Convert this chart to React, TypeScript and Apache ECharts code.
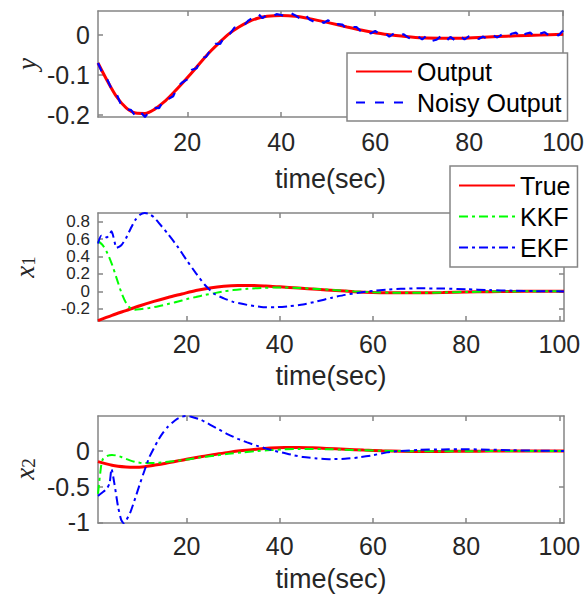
import React, { useEffect, useRef } from 'react';
import * as echarts from 'echarts';

// ---------- data ----------
const timeTicks = [20, 40, 60, 80, 100];
const yTicksY = [-0.2, -0.1, 0];
const yTicksX1 = [-0.2, 0, 0.2, 0.4, 0.6, 0.8];
const yTicksX2 = [-1, -0.5, 0];

const tOutput = [1,3,5,7,9,11,13,15,17,19,21,23,25,27,29,31,33,35,37,40,43,46,50,54,58,62,66,70,74,78,82,86,90,95,100];
const output = [-0.070,-0.115,-0.155,-0.182,-0.195,-0.196,-0.186,-0.168,-0.145,-0.120,-0.094,-0.066,-0.040,-0.017,0.004,0.020,0.033,0.042,0.047,0.049,0.047,0.041,0.031,0.020,0.010,0.002,-0.003,-0.007,-0.008,-0.008,-0.006,-0.004,-0.002,0.000,0.002];

const tNoisy = [1,2,3,4,5,6,7,8,9,10,11,12,13,14,15,16,17,18,19,20,21,22,23,24,25,26,27,28,29,30,31,32,33,34,35,36,37,38,39,40,41,42,43,44,45,46,47,48,49,50,51,52,53,54,55,56,57,58,59,60,61,62,63,64,65,66,67,68,69,70,71,72,73,74,75,76,77,78,79,80,81,82,83,84,85,86,87,88,89,90,91,92,93,94,95,96,97,98,99,100];
const noisyOutput = [
  -0.070,-0.097,-0.112,-0.138,-0.149,-0.177,-0.186,-0.187,-0.203,-0.192,
  -0.205,-0.190,-0.182,-0.183,-0.162,-0.160,-0.153,-0.128,-0.118,-0.111,
  -0.087,-0.083,-0.057,-0.055,-0.036,-0.022,-0.022,-0.003,0.002,0.018,
  0.022,0.023,0.036,0.044,0.054,0.042,0.051,0.046,0.052,0.050,
  0.046,0.055,0.049,0.041,0.052,0.039,0.033,0.039,0.030,0.037,
  0.023,0.027,0.026,0.014,0.020,0.020,0.009,0.012,0.004,0.010,
  0.002,0.005,-0.004,0.004,-0.004,0.002,-0.006,-0.011,-0.003,-0.011,
  -0.001,-0.015,-0.012,-0.003,-0.016,-0.005,-0.013,-0.002,-0.011,-0.003,
  0.000,-0.010,-0.004,-0.011,-0.001,-0.006,0.001,-0.006,0.003,0.006,
  -0.008,0.003,0.006,-0.005,0.003,0.007,-0.001,0.005,-0.001,0.011
];

const tTrue1 = [1,4,7,10,13,16,19,22,25,28,31,34,37,40,44,48,52,56,60,65,70,75,80,85,90,95,101];
const true1 = [-0.335,-0.275,-0.22,-0.165,-0.115,-0.07,-0.03,0.01,0.04,0.06,0.068,0.068,0.062,0.052,0.038,0.024,0.01,-0.003,-0.012,-0.017,-0.016,-0.012,-0.007,-0.003,0.0,0.001,0.001];
const tKkf1 = [1,2,3,4,5,6,7,8,9,10,12,14,16,18,20,22,24,26,28,30,33,36,40,44,48,52,56,60,65,70,75,80,85,90,95,101];
const kkf1 = [0.58,0.53,0.44,0.31,0.15,-0.01,-0.13,-0.195,-0.21,-0.205,-0.19,-0.17,-0.145,-0.12,-0.09,-0.065,-0.04,-0.02,0.0,0.015,0.03,0.04,0.045,0.04,0.028,0.014,0.0,-0.01,-0.016,-0.016,-0.012,-0.007,-0.003,0.0,0.001,0.001];
const tEkf1 = [1,1.7,2.9,3.9,5,6,7,8,9,10,11,12,13,14,16,18,20,22,24,26,28,30,33,36,39,42,45,48,51,54,57,60,63,66,70,75,80,85,90,95,101];
const ekf1 = [0.55,0.64,0.62,0.69,0.5,0.53,0.61,0.72,0.82,0.88,0.9,0.89,0.85,0.79,0.66,0.52,0.36,0.21,0.07,-0.03,-0.08,-0.12,-0.155,-0.178,-0.182,-0.17,-0.15,-0.115,-0.075,-0.04,-0.015,0.005,0.02,0.03,0.035,0.033,0.025,0.015,0.008,0.003,0.0];

const tTrue2 = [1,4,7,9,11,13,15,17,20,23,26,29,32,35,38,41,44,47,50,54,58,62,66,70,75,80,85,90,101];
const true2 = [-0.15,-0.2,-0.225,-0.23,-0.22,-0.2,-0.18,-0.155,-0.115,-0.08,-0.05,-0.02,0.005,0.025,0.04,0.047,0.048,0.044,0.036,0.024,0.012,0.003,-0.003,-0.006,-0.006,-0.004,-0.002,0.0,0.0];
const tKkf2 = [1,1.5,2,3,4,5,6,7,8,9,10,11,12,14,17,20,23,26,29,32,35,38,41,44,47,50,54,58,62,66,70,75,80,85,90,101];
const kkf2 = [-0.6,-0.3,-0.12,-0.07,-0.055,-0.065,-0.085,-0.11,-0.135,-0.155,-0.165,-0.17,-0.17,-0.165,-0.145,-0.12,-0.09,-0.065,-0.04,-0.02,-0.003,0.012,0.022,0.028,0.028,0.025,0.018,0.01,0.003,-0.002,-0.004,-0.005,-0.004,-0.002,0.0,0.0];
const tEkf2 = [1,2,2.9,3.5,3.9,4.5,5.3,6,6.5,7,8,9,10,11,12,13,14,15,16,17,18,19,20,21,23,25,27,29,31,33,35,37,39,41,43,45,48,51,54,57,60,63,66,70,75,80,85,90,95,101];
const ekf2 = [-0.63,-0.58,-0.53,-0.45,-0.25,-0.45,-0.78,-0.97,-1.01,-0.98,-0.85,-0.66,-0.46,-0.27,-0.09,0.04,0.16,0.26,0.34,0.4,0.45,0.48,0.49,0.48,0.44,0.37,0.3,0.23,0.17,0.12,0.075,0.035,0.0,-0.03,-0.06,-0.085,-0.105,-0.115,-0.11,-0.09,-0.06,-0.02,0.0,0.015,0.022,0.024,0.018,0.01,0.004,0.0];

// ---------- styling ----------
const FONT = '"Liberation Sans", Arial, Helvetica, sans-serif';
const SERIF = '"Liberation Serif", "DejaVu Serif", serif';
const AX = '#858585';
const TXT = '#262626';
const RED = '#ff0000';
const GREEN = '#00ff00';
const BLUE = '#0000ff';
const DASH = [9, 10];
const DASHDOT = [9, 4, 3, 4];

const pairs = (t: number[], v: number[]) => t.map((x, i) => [x, v[i]]);

function xAxes(gridIndex: number, max: number, nameGap: number, labelMargin: number) {
  const line = { show: true, onZero: false, lineStyle: { color: AX, width: 1.5 } };
  const tick = { show: true, inside: true, length: 5, customValues: timeTicks, lineStyle: { color: AX, width: 1.5 } };
  return [
    {
      type: 'value', gridIndex, min: 1, max, position: 'bottom',
      axisLine: line, axisTick: tick,
      axisLabel: { show: true, customValues: timeTicks, margin: labelMargin, color: TXT, fontSize: 25, fontFamily: FONT, showMinLabel: true, showMaxLabel: true },
      splitLine: { show: false },
      name: 'time(sec)', nameLocation: 'middle', nameGap,
      nameTextStyle: { color: TXT, fontSize: 27, fontFamily: FONT },
    },
    {
      type: 'value', gridIndex, min: 1, max, position: 'top',
      axisLine: line, axisTick: tick, axisLabel: { show: false }, splitLine: { show: false },
    },
  ];
}

function yAxes(gridIndex: number, min: number, max: number, ticks: number[], fontSize: number) {
  const line = { show: true, onZero: false, lineStyle: { color: AX, width: 1.5 } };
  const tick = { show: true, inside: true, length: 5, customValues: ticks, lineStyle: { color: AX, width: 1.5 } };
  return [
    {
      type: 'value', gridIndex, min, max, position: 'left',
      axisLine: line, axisTick: tick,
      axisLabel: { show: true, customValues: ticks, margin: 8, color: TXT, fontSize, lineHeight: fontSize, fontFamily: FONT, showMinLabel: true, showMaxLabel: true, hideOverlap: false },
      splitLine: { show: false },
    },
    {
      type: 'value', gridIndex, min, max, position: 'right',
      axisLine: line, axisTick: tick, axisLabel: { show: false }, splitLine: { show: false },
    },
  ];
}

function lineSeries(name: string, xi: number, data: number[][], color: string, width: number, type: any, smooth: number | boolean) {
  return {
    name, type: 'line', xAxisIndex: xi, yAxisIndex: xi, data,
    symbol: 'none', showSymbol: false, smooth, color,
    lineStyle: { color, width, type },
    itemStyle: { color },
  };
}

export default function App() {
  const ref = useRef<HTMLDivElement>(null);
  useEffect(() => {
    if (!ref.current) return;
    const chart = echarts.init(ref.current, undefined, { renderer: 'svg' });
    const legendText = { color: '#000', fontSize: 25, fontFamily: FONT };
    const legendCommon = {
      orient: 'vertical',
      backgroundColor: '#ffffff', borderColor: AX, borderWidth: 1.5, borderRadius: 0,
      itemWidth: 56, itemHeight: 14, itemGap: 6,
      itemStyle: { opacity: 0, borderWidth: 0 },
      textStyle: legendText, selectedMode: false,
    };
    chart.setOption({
      animation: false,
      backgroundColor: '#ffffff',
      grid: [
        { left: 98, top: 11, width: 466, height: 106 },
        { left: 98, top: 213, width: 466, height: 108 },
        { left: 98, top: 416, width: 466, height: 107 },
      ],
      xAxis: [
        ...xAxes(0, 100, 48, 12),
        ...xAxes(1, 101, 41, 10),
        ...xAxes(2, 101, 42, 10),
      ],
      yAxis: [
        ...yAxes(0, -0.205, 0.06, yTicksY, 25),
        ...yAxes(1, -0.34, 0.9, yTicksX1, 17),
        ...yAxes(2, -1.01, 0.49, yTicksX2, 25),
      ],
      legend: [
        { ...legendCommon, data: ['Output', 'Noisy Output'], left: 347, top: 53, padding: [6, 6, 6, 8] },
        { ...legendCommon, data: ['True', 'KKF', 'EKF'], left: 450, top: 166, padding: [7, 7, 7, 8] },
      ],
      graphic: [
        {
          type: 'text', x: 27, y: 64, rotation: Math.PI / 2,
          style: { text: 'y', fontFamily: SERIF, fontStyle: 'italic', fontSize: 27, fill: TXT, align: 'center', verticalAlign: 'middle' },
        },
        {
          type: 'text', x: 28, y: 267, rotation: Math.PI / 2,
          style: {
            text: '{a|x}{b|1}', align: 'center', verticalAlign: 'middle',
            rich: {
              a: { fontFamily: SERIF, fontStyle: 'italic', fontSize: 27, fill: TXT, padding: [0, 0, 7, 0] },
              b: { fontFamily: SERIF, fontSize: 19, fill: TXT },
            },
          },
        },
        {
          type: 'text', x: 28, y: 469, rotation: Math.PI / 2,
          style: {
            text: '{a|x}{b|2}', align: 'center', verticalAlign: 'middle',
            rich: {
              a: { fontFamily: SERIF, fontStyle: 'italic', fontSize: 27, fill: TXT, padding: [0, 0, 7, 0] },
              b: { fontFamily: SERIF, fontSize: 19, fill: TXT },
            },
          },
        },
      ],
      series: [
        lineSeries('Output', 0, pairs(tOutput, output), RED, 3, 'solid', 0.3),
        lineSeries('Noisy Output', 0, pairs(tNoisy, noisyOutput), BLUE, 2.2, DASH, false),
        lineSeries('True', 2, pairs(tTrue1, true1), RED, 3, 'solid', 0.3),
        lineSeries('KKF', 2, pairs(tKkf1, kkf1), GREEN, 2, DASHDOT, 0.3),
        lineSeries('EKF', 2, pairs(tEkf1, ekf1), BLUE, 2, DASHDOT, 0.2),
        lineSeries('True', 4, pairs(tTrue2, true2), RED, 3, 'solid', 0.3),
        lineSeries('KKF', 4, pairs(tKkf2, kkf2), GREEN, 2, DASHDOT, 0.3),
        lineSeries('EKF', 4, pairs(tEkf2, ekf2), BLUE, 2, DASHDOT, 0.2),
      ],
    });
    return () => chart.dispose();
  }, []);
  return (
    <div
      ref={ref}
      style={{ position: 'absolute', left: 0, top: 0, width: 587, height: 596, background: '#fff' }}
    />
  );
}
